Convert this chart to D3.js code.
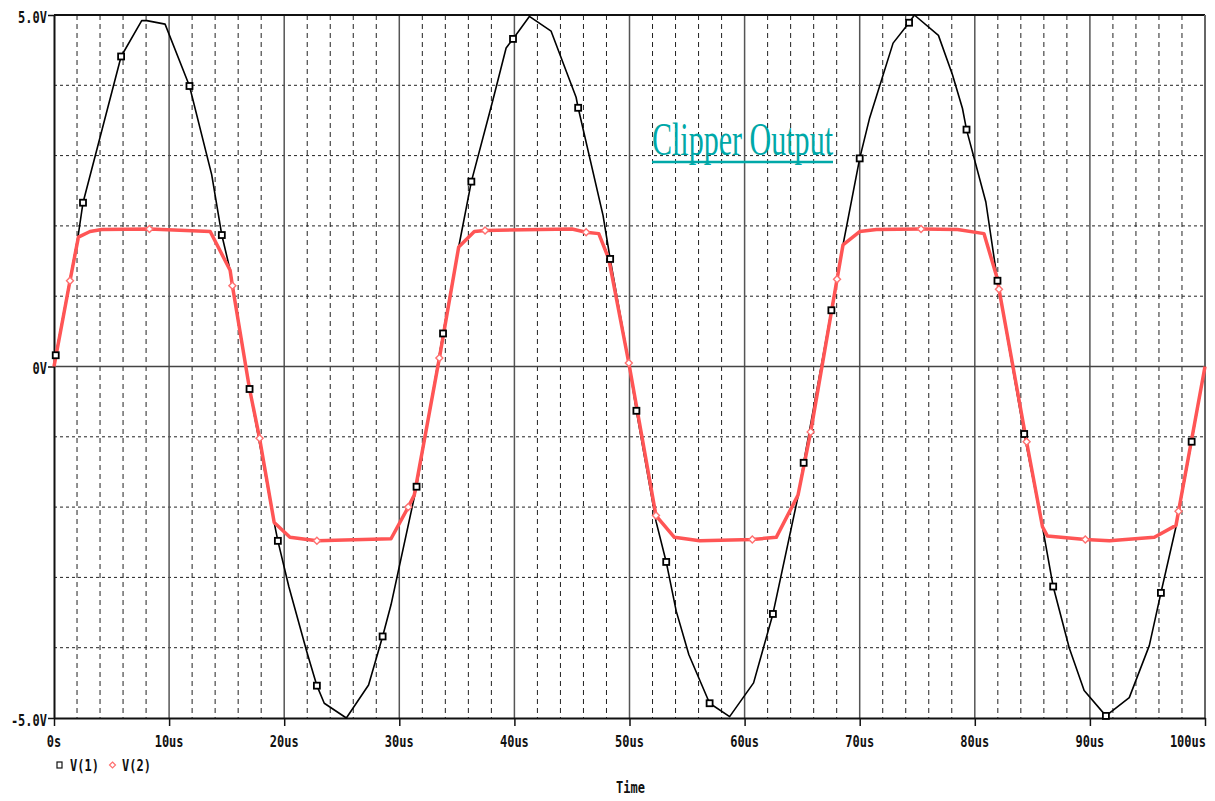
<!DOCTYPE html>
<html>
<head>
<meta charset="utf-8">
<script src="https://cdn.jsdelivr.net/npm/d3@7"></script>
<style>
  body { margin: 0; background: #fff; }
</style>
</head>
<body>
<div id="chart"></div>
<script>
// valori: [tempo (us), tensione (V)]
var v1Points = [
  [0, 0], [0.15, 0.16], [2.1, 1.86], [2.52, 2.33], [5.83, 4.41], [7.62, 4.92], [8.06, 4.92],
  [9.65, 4.87], [11.77, 3.99], [13.7, 2.73], [14.58, 1.87], [15.3, 1.37], [16.99, -0.32],
  [19.13, -2.22], [19.45, -2.48], [20.4, -3.13], [21.97, -4.06], [22.84, -4.54], [23.48, -4.79],
  [25.4, -5.0], [27.33, -4.53], [28.55, -3.84], [29.28, -3.39], [31.5, -1.71], [33.8, 0.47],
  [35.16, 1.70], [36.26, 2.63], [38.1, 3.77], [39.28, 4.53], [39.88, 4.66], [41.3, 4.98],
  [43.19, 4.77], [45.36, 3.83], [45.54, 3.68], [47.7, 2.15], [48.32, 1.53], [49.94, 0.05],
  [50.6, -0.63], [52.3, -2.2], [53.19, -2.78], [54.06, -3.48], [55.16, -4.1], [56.96, -4.79],
  [58.7, -4.98], [60.78, -4.5], [62.46, -3.52], [64.64, -1.85], [65.13, -1.37], [67.54, 0.80],
  [68.55, 1.73], [70.0, 2.96], [70.87, 3.54], [72.9, 4.6], [74.29, 4.89], [74.75, 5.0],
  [76.84, 4.71], [78.06, 4.15], [78.93, 3.67], [79.28, 3.37], [80.96, 2.34], [81.97, 1.22],
  [84.29, -0.96], [85.88, -2.28], [86.81, -3.13], [88.2, -4.0], [89.5, -4.61], [91.39, -4.97],
  [93.42, -4.71], [95.16, -3.97], [96.17, -3.22], [97.48, -2.28], [98.84, -1.07], [100, 0]
];
var v1Markers = [0.15, 2.52, 5.83, 11.77, 14.58, 16.99, 19.45, 22.84, 28.55, 31.5, 33.8, 36.26,
  39.88, 45.54, 48.32, 50.6, 53.19, 56.96, 62.46, 65.13, 67.54, 70.0, 74.29, 79.28, 81.97,
  84.29, 86.81, 91.39, 96.17, 98.84];

var v2Points = [
  [0, 0], [1.39, 1.22], [2.12, 1.84], [3.13, 1.92], [4.14, 1.95], [8.29, 1.955], [13.57, 1.92],
  [15.3, 1.37], [15.5, 1.15], [16.99, -0.32], [17.86, -1.02], [19.13, -2.22], [20.5, -2.43],
  [22.84, -2.48], [29.28, -2.45], [30.78, -2.0], [31.3, -1.83], [33.48, 0.12], [35.16, 1.70],
  [36.52, 1.92], [37.45, 1.935], [45.0, 1.955], [46.23, 1.91], [47.33, 1.89], [48.2, 1.53],
  [49.94, 0.05], [52.3, -2.12], [53.9, -2.43], [56.1, -2.48], [60.67, -2.46], [62.75, -2.43],
  [64.64, -1.83], [65.74, -0.93], [68.03, 1.24], [68.55, 1.73], [70.0, 1.92], [71.45, 1.95],
  [75.33, 1.955], [78.5, 1.95], [80.8, 1.89], [81.97, 1.24], [82.1, 1.10], [84.5, -1.07],
  [85.88, -2.28], [86.3, -2.41], [89.6, -2.46], [91.7, -2.48], [95.6, -2.43], [97.48, -2.26],
  [97.7, -2.06], [100, 0]
];
var v2Markers = [1.39, 8.29, 15.5, 17.86, 22.84, 30.78, 33.48, 37.45, 46.23, 49.94, 52.3,
  60.67, 65.74, 68.03, 75.33, 82.1, 84.5, 89.6, 97.7];

var xTicks = [0, 10, 20, 30, 40, 50, 60, 70, 80, 90, 100];
var xLabels = ["0s", "10us", "20us", "30us", "40us", "50us", "60us", "70us", "80us", "90us", "100us"];
var yTicks = [-5, 0, 5];
var yLabels = ["-5.0V", "0V", "5.0V"];
var seriesNames = ["V(1)", "V(2)"];
var xTitle = "Time";
var plotTitle = "Clipper Output";

var width = 1215;
var height = 801;
var plotLeft = 54, plotRight = 1205, plotTop = 15, plotBottom = 718;

var svg = d3.select("#chart").append("svg")
  .attr("width", width)
  .attr("height", height)
  .style("font-family", "'DejaVu Sans Mono', monospace");

var x = d3.scaleLinear().domain([0, 100]).range([plotLeft, plotRight]);
var y = d3.scaleLinear().domain([-5, 5]).range([plotBottom, plotTop]);

// griglia
var grid = svg.append("g");
grid.selectAll(".minor-x")
  .data(d3.range(2, 100, 2).filter(t => t % 10 !== 0))
  .enter().append("line")
  .attr("x1", d => x(d)).attr("x2", d => x(d))
  .attr("y1", plotTop).attr("y2", plotBottom)
  .attr("stroke", "#222").attr("stroke-width", 1)
  .attr("stroke-dasharray", "5,4");
grid.selectAll(".minor-y")
  .data(d3.range(-4, 5).filter(v => v !== 0))
  .enter().append("line")
  .attr("x1", plotLeft).attr("x2", plotRight)
  .attr("y1", d => y(d)).attr("y2", d => y(d))
  .attr("stroke", "#222").attr("stroke-width", 1)
  .attr("stroke-dasharray", "3,3");
grid.selectAll(".major-x")
  .data(d3.range(10, 100, 10))
  .enter().append("line")
  .attr("x1", d => x(d)).attr("x2", d => x(d))
  .attr("y1", plotTop).attr("y2", plotBottom)
  .attr("stroke", "#555").attr("stroke-width", 1.5);
grid.append("line")
  .attr("x1", plotLeft).attr("x2", plotRight)
  .attr("y1", y(0)).attr("y2", y(0))
  .attr("stroke", "#444").attr("stroke-width", 1.5);

// bordo superiore e destro
svg.append("line").attr("x1", plotLeft).attr("x2", plotRight).attr("y1", plotTop).attr("y2", plotTop)
  .attr("stroke", "#111").attr("stroke-width", 2);
svg.append("line").attr("x1", plotRight).attr("x2", plotRight).attr("y1", plotTop).attr("y2", plotBottom)
  .attr("stroke", "#666").attr("stroke-width", 2);

// assi
var xAxis = svg.append("g")
  .attr("transform", `translate(0,${plotBottom})`)
  .call(d3.axisBottom(x).tickValues(xTicks).tickSize(8).tickSizeOuter(0).tickFormat(""));
var yAxis = svg.append("g")
  .attr("transform", `translate(${plotLeft},0)`)
  .call(d3.axisLeft(y).tickValues(yTicks).tickSize(6).tickSizeOuter(0).tickFormat(""));
[xAxis, yAxis].forEach(a => {
  a.select(".domain").attr("stroke", "#111").attr("stroke-width", 2);
  a.selectAll(".tick line").attr("stroke", "#111").attr("stroke-width", 1.5);
});

// testo stile "pixel"
function pixText(txt, px, py, anchor, color) {
  svg.append("text")
    .attr("transform", `translate(${px},${py}) scale(1,1.3)`)
    .attr("text-anchor", anchor)
    .attr("dominant-baseline", "central")
    .style("font-size", "12px")
    .style("font-weight", "bold")
    .attr("fill", color || "#111")
    .text(txt);
}

xTicks.forEach((t, i) => {
  var last = i === xTicks.length - 1;
  pixText(xLabels[i], last ? plotRight + 1 : x(t), 741, last ? "end" : "middle");
});
yTicks.forEach((v, i) => {
  pixText(yLabels[i], 47, y(v) + 2, "end");
});
pixText(xTitle, (plotLeft + plotRight) / 2 + 1, 787, "middle");

// tracce
var line = d3.line().x(d => x(d[0])).y(d => y(d[1]));

svg.append("path").datum(v1Points)
  .attr("d", line)
  .attr("fill", "none")
  .attr("stroke", "#000")
  .attr("stroke-width", 1.6)
  .attr("stroke-linejoin", "round");

svg.append("path").datum(v2Points)
  .attr("d", line)
  .attr("fill", "none")
  .attr("stroke", "#ff5555")
  .attr("stroke-width", 3.5)
  .attr("stroke-linejoin", "round");

var m1 = v1Points.filter(p => v1Markers.indexOf(p[0]) >= 0);
var m2 = v2Points.filter(p => v2Markers.indexOf(p[0]) >= 0);

svg.selectAll(".mk1").data(m1).enter().append("rect")
  .attr("x", d => x(d[0]) - 3).attr("y", d => y(d[1]) - 3)
  .attr("width", 6).attr("height", 6)
  .attr("fill", "#fff").attr("stroke", "#000").attr("stroke-width", 1.8);

var diamond = function (cx, cy, r) {
  return `M${cx},${cy - r}L${cx + r},${cy}L${cx},${cy + r}L${cx - r},${cy}Z`;
};
svg.selectAll(".mk2").data(m2).enter().append("path")
  .attr("d", d => diamond(x(d[0]), y(d[1]), 3.5))
  .attr("fill", "#fff").attr("stroke", "#ff7070").attr("stroke-width", 1.4);

// legenda
svg.append("rect").attr("x", 57).attr("y", 762).attr("width", 5).attr("height", 6)
  .attr("fill", "#fff").attr("stroke", "#111").attr("stroke-width", 1.2);
pixText(seriesNames[0], 70, 765, "start");
svg.append("path").attr("d", diamond(112.5, 765, 3))
  .attr("fill", "#fff").attr("stroke", "#ff7070").attr("stroke-width", 1.2);
pixText(seriesNames[1], 122, 765, "start");

// titolo
svg.append("text")
  .attr("x", 652).attr("y", 155)
  .attr("textLength", 181)
  .attr("lengthAdjust", "spacingAndGlyphs")
  .style("font-family", "'Liberation Serif', 'Times New Roman', serif")
  .style("font-size", "46px")
  .attr("fill", "#00a8a8")
  .text(plotTitle);
svg.append("line").attr("x1", 652).attr("x2", 833).attr("y1", 162).attr("y2", 162)
  .attr("stroke", "#00a8a8").attr("stroke-width", 2.5);
</script>
</body>
</html>
